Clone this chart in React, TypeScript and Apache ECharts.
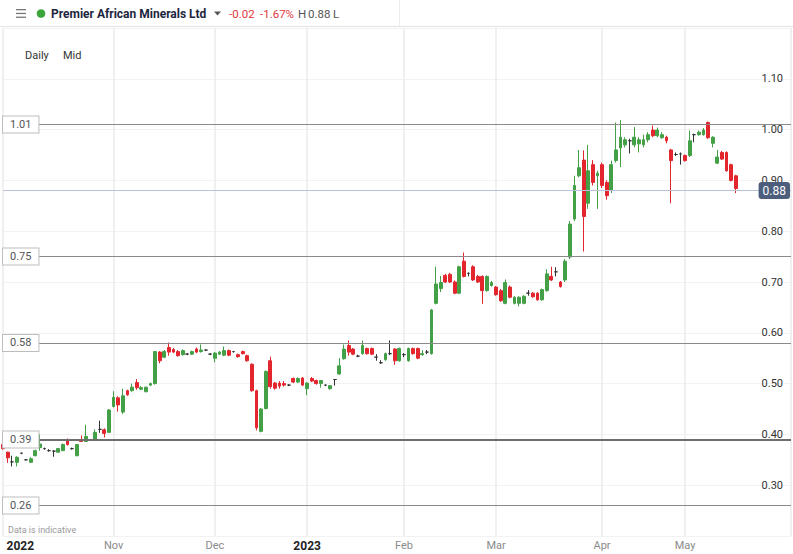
import React, { useEffect, useRef } from "react";
import * as echarts from "echarts";

// ---- data ----
const opens = [
  0.380, 0.365, 0.346, 0.345, 0.363, 0.350, 0.345, 0.358, 0.374, 0.372,
  0.368, 0.367, 0.365, 0.368, 0.389, 0.372, 0.358, 0.390, 0.386, 0.389,
  0.391, 0.410, 0.409, 0.404, 0.455, 0.472, 0.444, 0.486, 0.486, 0.502,
  0.489, 0.484, 0.497, 0.500, 0.562, 0.552, 0.571, 0.567, 0.563, 0.557,
  0.558, 0.558, 0.568, 0.563, 0.566, 0.558, 0.550, 0.558, 0.556, 0.565,
  0.563, 0.557, 0.563, 0.555, 0.538, 0.486, 0.406, 0.451, 0.545, 0.501,
  0.501, 0.500, 0.497, 0.510, 0.503, 0.511, 0.490, 0.510, 0.506, 0.500,
  0.497, 0.490, 0.508, 0.519, 0.549, 0.575, 0.568, 0.554, 0.559, 0.569,
  0.569, 0.552, 0.541, 0.547, 0.559, 0.568, 0.545, 0.557, 0.545, 0.569,
  0.569, 0.557, 0.562, 0.559, 0.658, 0.687, 0.713, 0.715, 0.700, 0.678,
  0.741, 0.717, 0.730, 0.711, 0.711, 0.683, 0.693, 0.690, 0.683, 0.658,
  0.690, 0.658, 0.658, 0.658, 0.678, 0.678, 0.678, 0.665, 0.683, 0.711,
  0.720, 0.700, 0.704, 0.749, 0.824, 0.909, 0.940, 0.855, 0.931, 0.909,
  0.931, 0.896, 0.880, 0.939, 0.964, 0.970, 0.978, 0.970, 0.972, 0.970,
  0.980, 0.999, 0.988, 0.984, 0.985, 0.960, 0.951, 0.952, 0.949, 0.949,
  0.990, 0.990, 0.990, 1.014, 0.973, 0.934, 0.955, 0.955, 0.931, 0.909
];
const closes = [
  0.372, 0.354, 0.346, 0.355, 0.363, 0.350, 0.352, 0.368, 0.381, 0.372,
  0.368, 0.367, 0.372, 0.380, 0.380, 0.372, 0.380, 0.386, 0.396, 0.389,
  0.404, 0.410, 0.402, 0.448, 0.473, 0.458, 0.476, 0.478, 0.493, 0.492,
  0.492, 0.493, 0.500, 0.563, 0.545, 0.563, 0.562, 0.562, 0.555, 0.565,
  0.558, 0.563, 0.562, 0.566, 0.566, 0.558, 0.560, 0.562, 0.565, 0.556,
  0.563, 0.553, 0.559, 0.545, 0.486, 0.413, 0.450, 0.524, 0.494, 0.491,
  0.495, 0.497, 0.497, 0.503, 0.510, 0.497, 0.501, 0.505, 0.500, 0.506,
  0.497, 0.496, 0.508, 0.535, 0.568, 0.562, 0.558, 0.554, 0.575, 0.559,
  0.558, 0.552, 0.541, 0.559, 0.559, 0.545, 0.569, 0.557, 0.569, 0.559,
  0.550, 0.559, 0.562, 0.645, 0.696, 0.699, 0.700, 0.700, 0.678, 0.730,
  0.711, 0.717, 0.704, 0.700, 0.683, 0.711, 0.699, 0.675, 0.663, 0.699,
  0.670, 0.670, 0.670, 0.672, 0.678, 0.671, 0.665, 0.685, 0.716, 0.704,
  0.720, 0.691, 0.741, 0.814, 0.890, 0.925, 0.829, 0.919, 0.896, 0.914,
  0.890, 0.870, 0.931, 0.960, 0.985, 0.980, 0.978, 0.985, 0.980, 0.980,
  0.990, 0.988, 0.999, 0.990, 0.978, 0.939, 0.951, 0.952, 0.939, 0.978,
  0.990, 0.995, 0.999, 0.984, 0.985, 0.946, 0.942, 0.919, 0.900, 0.884
];
const lows = [
  0.370, 0.344, 0.337, 0.337, 0.361, 0.349, 0.344, 0.357, 0.368, 0.370,
  0.366, 0.356, 0.364, 0.367, 0.378, 0.370, 0.357, 0.385, 0.385, 0.387,
  0.390, 0.403, 0.394, 0.403, 0.453, 0.445, 0.440, 0.476, 0.484, 0.488,
  0.487, 0.483, 0.495, 0.498, 0.540, 0.550, 0.555, 0.560, 0.553, 0.555,
  0.556, 0.556, 0.560, 0.561, 0.564, 0.556, 0.542, 0.556, 0.554, 0.554,
  0.561, 0.551, 0.557, 0.543, 0.484, 0.408, 0.404, 0.449, 0.490, 0.488,
  0.490, 0.494, 0.495, 0.501, 0.501, 0.495, 0.477, 0.503, 0.498, 0.492,
  0.495, 0.488, 0.496, 0.517, 0.547, 0.555, 0.556, 0.552, 0.557, 0.557,
  0.556, 0.545, 0.539, 0.545, 0.556, 0.537, 0.543, 0.552, 0.543, 0.557,
  0.548, 0.555, 0.558, 0.557, 0.656, 0.680, 0.698, 0.698, 0.676, 0.676,
  0.709, 0.711, 0.702, 0.698, 0.657, 0.681, 0.691, 0.673, 0.661, 0.656,
  0.668, 0.656, 0.652, 0.656, 0.673, 0.669, 0.663, 0.663, 0.681, 0.702,
  0.711, 0.689, 0.700, 0.745, 0.820, 0.906, 0.760, 0.844, 0.890, 0.844,
  0.885, 0.862, 0.875, 0.935, 0.926, 0.965, 0.953, 0.965, 0.955, 0.965,
  0.975, 0.985, 0.985, 0.982, 0.973, 0.855, 0.948, 0.931, 0.937, 0.946,
  0.975, 0.988, 0.988, 0.982, 0.965, 0.932, 0.940, 0.917, 0.898, 0.875
];
const highs = [
  0.383, 0.366, 0.358, 0.357, 0.364, 0.351, 0.355, 0.370, 0.400, 0.374,
  0.371, 0.369, 0.373, 0.382, 0.392, 0.374, 0.381, 0.398, 0.419, 0.390,
  0.410, 0.427, 0.412, 0.450, 0.485, 0.475, 0.490, 0.488, 0.500, 0.509,
  0.495, 0.494, 0.502, 0.564, 0.564, 0.566, 0.581, 0.570, 0.566, 0.567,
  0.560, 0.565, 0.571, 0.577, 0.567, 0.560, 0.562, 0.564, 0.573, 0.567,
  0.564, 0.559, 0.565, 0.557, 0.540, 0.488, 0.452, 0.526, 0.553, 0.503,
  0.505, 0.505, 0.499, 0.512, 0.512, 0.513, 0.503, 0.513, 0.508, 0.507,
  0.498, 0.497, 0.509, 0.550, 0.577, 0.585, 0.570, 0.557, 0.585, 0.571,
  0.571, 0.558, 0.546, 0.561, 0.585, 0.570, 0.571, 0.560, 0.571, 0.571,
  0.571, 0.566, 0.566, 0.647, 0.730, 0.712, 0.716, 0.718, 0.703, 0.732,
  0.758, 0.719, 0.733, 0.714, 0.713, 0.713, 0.702, 0.692, 0.686, 0.705,
  0.693, 0.672, 0.672, 0.674, 0.684, 0.680, 0.680, 0.687, 0.725, 0.730,
  0.729, 0.702, 0.745, 0.820, 0.909, 0.960, 0.959, 0.970, 0.940, 0.919,
  0.935, 0.900, 0.939, 1.014, 1.019, 0.985, 0.982, 1.005, 0.985, 0.990,
  0.995, 1.008, 1.004, 0.995, 0.988, 0.962, 0.955, 0.955, 0.951, 0.998,
  0.992, 0.998, 1.003, 1.016, 0.987, 0.960, 0.958, 0.957, 0.933, 0.911
];

const firstTradingDay = [2022, 8, 28]; // 28 Sep 2022
const holidays = ["2022-12-26", "2022-12-27", "2023-01-02", "2023-04-07", "2023-04-10", "2023-05-01", "2023-05-08", "2023-05-29"];
const emptySlots = 12;

const levelValues = [1.015, 0.747, 0.576, 0.385, 0.264];
const levelLabels = ["1.01", "0.75", "0.58", "0.39", "0.26"];
const strongLevel = 0.385;
const yMin = 0.2;
const yMax = 1.2;
const yStep = 0.1;

const monthNames = ["Jan", "Feb", "Mar", "Apr", "May", "Jun", "Jul", "Aug", "Sep", "Oct", "Nov", "Dec"];
const headerTitle = "Premier African Minerals Ltd";
const headerChange = "-0.02";
const headerChangePct = "-1.67%";

const GREEN = "#43a047";
const RED = "#e3262e";
const DOJI = "#333333";
const FONT = "Roboto, 'Noto Sans', Arial, sans-serif";

function buildDates(count: number): string[] {
  const out: string[] = [];
  const d = new Date(Date.UTC(firstTradingDay[0], firstTradingDay[1], firstTradingDay[2]));
  while (out.length < count) {
    const iso = d.toISOString().slice(0, 10);
    const wd = d.getUTCDay();
    if (wd !== 0 && wd !== 6 && holidays.indexOf(iso) < 0) out.push(iso);
    d.setUTCDate(d.getUTCDate() + 1);
  }
  return out;
}

export default function App() {
  const ref = useRef<HTMLDivElement>(null);

  useEffect(() => {
    document.body.style.margin = "0";
    if (!ref.current) return;
    const chart = echarts.init(ref.current, undefined, { renderer: "svg" });

    const n = opens.length;
    const dates = buildDates(n + emptySlots);
    const monthStarts: number[] = [];
    for (let i = 1; i < n; i++) {
      if (dates[i].slice(5, 7) !== dates[i - 1].slice(5, 7)) monthStarts.push(i);
    }
    const firstLabel = monthStarts[0];
    const labelIdx = new Set<number>(monthStarts);
    const lineIdx = new Set<number>(monthStarts.filter((i) => i !== firstLabel));
    lineIdx.add(0);
    lineIdx.add(dates.length - 1);

    const data = opens.map((o, i) => {
      const item: any = { value: [o, closes[i], lows[i], highs[i]] };
      if (o === closes[i]) {
        item.itemStyle = { color: DOJI, color0: DOJI, borderColor: DOJI, borderColor0: DOJI };
      }
      return item;
    });
    const lastClose = closes[n - 1];

    const levelLines = levelValues.map((v, k) => ({
      yAxis: v,
      lineStyle: { color: v === strongLevel ? "#6e6e6e" : "#8a8a8a", width: v === strongLevel ? 2 : 1, type: "solid" },
      label: {
        show: true,
        position: "insideStart",
        distance: [0, 0],
        formatter: () => levelLabels[k],
        color: "#555",
        fontSize: 11,
        fontFamily: FONT,
        backgroundColor: "#fff",
        borderColor: "#bdbdbd",
        borderWidth: 1,
        padding: [3, 7, 2, 7],
      },
    }));

    const option: any = {
      animation: false,
      textStyle: { fontFamily: FONT },
      grid: { left: 3, right: 2, top: 28, bottom: 18, containLabel: false },
      xAxis: {
        type: "category",
        data: dates,
        boundaryGap: false,
        axisLine: { show: false },
        axisTick: { show: false },
        axisLabel: {
          margin: 4,
          interval: (i: number) => labelIdx.has(i),
          formatter: (val: string, i: number) => {
            const m = parseInt(val.slice(5, 7), 10) - 1;
            const y = val.slice(0, 4);
            if (i === firstLabel) return "{first|" + y + "}";
            if (m === 0) return "{yr|" + y + "}";
            return "{mo|" + monthNames[m] + "}";
          },
          rich: {
            first: { fontWeight: "bold", color: "#222", fontSize: 12, padding: [0, 0, 0, 7], fontFamily: FONT },
            yr: { fontWeight: "bold", color: "#222", fontSize: 12, fontFamily: FONT },
            mo: { color: "#8a8a8a", fontSize: 11, fontFamily: FONT },
          },
        },
        splitLine: {
          show: true,
          interval: (i: number) => lineIdx.has(i),
          lineStyle: { color: "#ebebeb", width: 1.5 },
        },
      },
      yAxis: {
        type: "value",
        position: "right",
        min: yMin,
        max: yMax,
        interval: yStep,
        axisLine: { show: false },
        axisTick: { show: false },
        axisLabel: {
          inside: true,
          margin: 8,
          color: "#333",
          fontSize: 11,
          showMinLabel: false,
          showMaxLabel: false,
          formatter: (v: number) => v.toFixed(2),
        },
        splitLine: { show: true, lineStyle: { color: "#f2f2f2", width: 1 } },
      },
      series: [
        {
          type: "candlestick",
          data,
          barWidth: 3.3,
          clip: true,
          itemStyle: { color: GREEN, color0: RED, borderColor: GREEN, borderColor0: RED, borderWidth: 1 },
          markLine: {
            silent: true,
            symbol: ["none", "none"],
            animation: false,
            data: [
              ...levelLines,
              {
                yAxis: lastClose,
                lineStyle: { color: "#bcc1da", width: 1, type: "solid" },
                label: {
                  show: true,
                  position: "insideEnd",
                  distance: [1, 0],
                  formatter: () => lastClose.toFixed(2),
                  color: "#fff",
                  fontSize: 12,
                  fontFamily: FONT,
                  backgroundColor: "#4d5d7c",
                  borderRadius: 3,
                  padding: [3, 4, 2, 4],
                },
              },
            ],
          },
        },
      ],
      graphic: [
        { type: "line", shape: { x1: 0, y1: 26.5, x2: 793, y2: 26.5 }, style: { stroke: "#e3e3e3", lineWidth: 1 } },
        { type: "line", shape: { x1: 399.5, y1: 0, x2: 399.5, y2: 26 }, style: { stroke: "#ececec", lineWidth: 1 } },
        { type: "rect", shape: { x: 16, y: 9, width: 10, height: 1.3 }, style: { fill: "#777" } },
        { type: "rect", shape: { x: 16, y: 12.8, width: 10, height: 1.3 }, style: { fill: "#777" } },
        { type: "rect", shape: { x: 16, y: 16.6, width: 10, height: 1.3 }, style: { fill: "#777" } },
        { type: "circle", shape: { cx: 41, cy: 13.5, r: 4.3 }, style: { fill: "#3aa53a" } },
        { type: "text", x: 51, y: 13.5, style: { text: headerTitle, font: "bold 12px " + FONT, fill: "#1d2640", verticalAlign: "middle", align: "left" } },
        { type: "polygon", shape: { points: [[214, 11.5], [221, 11.5], [217.5, 15.5]] }, style: { fill: "#555" } },
        { type: "text", x: 229, y: 13.5, style: { text: headerChange, font: "11.5px " + FONT, fill: "#e0393e", verticalAlign: "middle" } },
        { type: "text", x: 260, y: 13.5, style: { text: headerChangePct, font: "11.5px " + FONT, fill: "#e0393e", verticalAlign: "middle" } },
        { type: "text", x: 298, y: 13.5, style: { text: "H", font: "11.5px " + FONT, fill: "#555", verticalAlign: "middle" } },
        { type: "text", x: 308, y: 13.5, style: { text: lastClose.toFixed(2), font: "11.5px " + FONT, fill: "#555", verticalAlign: "middle" } },
        { type: "text", x: 333, y: 13.5, style: { text: "L", font: "11.5px " + FONT, fill: "#555", verticalAlign: "middle" } },
        { type: "text", x: 25, y: 55, style: { text: "Daily", font: "11px " + FONT, fill: "#333", verticalAlign: "middle" } },
        { type: "text", x: 63, y: 55, style: { text: "Mid", font: "11px " + FONT, fill: "#333", verticalAlign: "middle" } },
        { type: "text", x: 8, y: 529.5, style: { text: "Data is indicative", font: "9px " + FONT, fill: "#9a9a9a", verticalAlign: "middle" } },
      ],
    };

    chart.setOption(option);
    return () => chart.dispose();
  }, []);

  return (
    <div style={{ position: "absolute", left: 0, top: 0, width: 793, height: 554, background: "#fff" }}>
      <div ref={ref} style={{ width: 793, height: 554 }} />
    </div>
  );
}
